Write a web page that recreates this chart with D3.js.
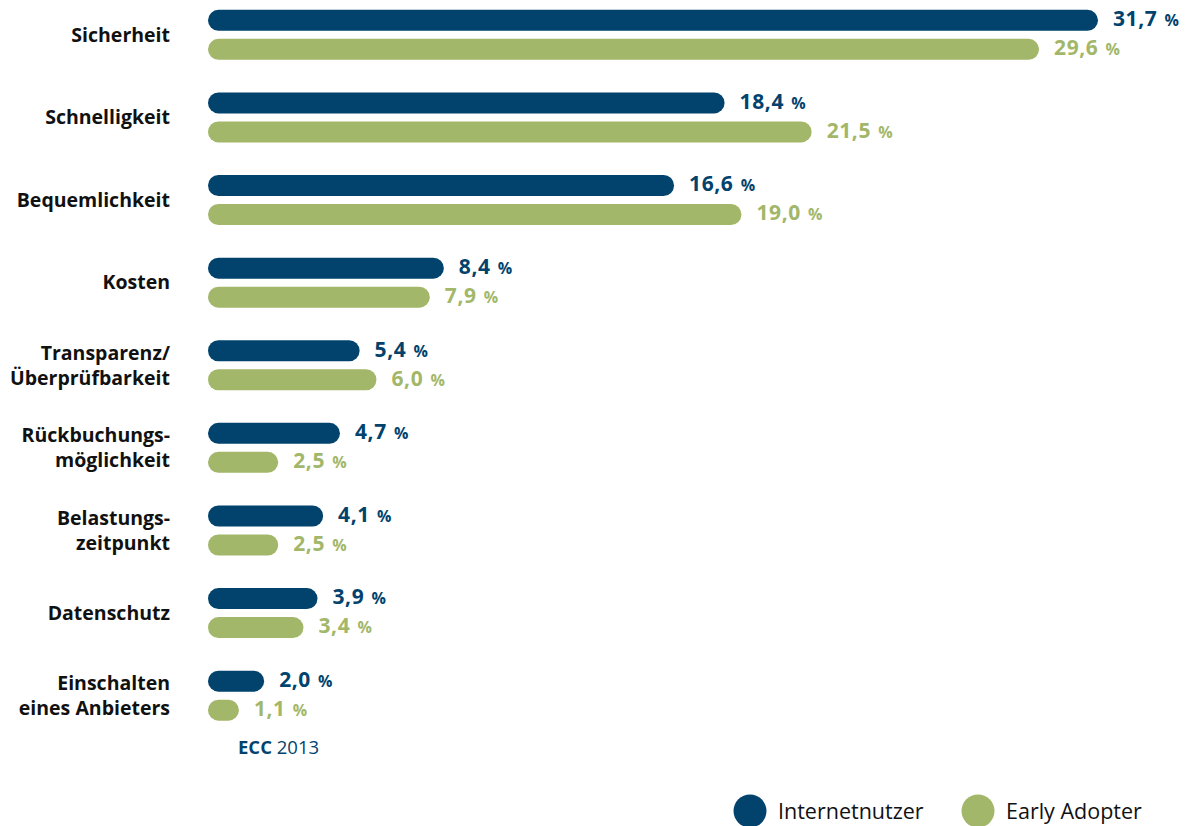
<!DOCTYPE html>
<html>
<head>
<meta charset="utf-8">
<script src="https://cdn.jsdelivr.net/npm/d3@7"></script>
<style>
  html, body { margin: 0; padding: 0; background: #fff; }
  svg { display: block; font-family: "Open Sans", "Noto Sans", sans-serif; }
</style>
</head>
<body>
<svg id="chart" width="1187" height="826"></svg>
<script>
// Gründe / Kriterien – Anteile in Prozent
const categories = [
  ["Sicherheit"],
  ["Schnelligkeit"],
  ["Bequemlichkeit"],
  ["Kosten"],
  ["Transparenz/", "Überprüfbarkeit"],
  ["Rückbuchungs-", "möglichkeit"],
  ["Belastungs-", "zeitpunkt"],
  ["Datenschutz"],
  ["Einschalten", "eines Anbieters"]
];
const seriesNames = ["Internetnutzer", "Early Adopter"];
const internetnutzer = [31.7, 18.4, 16.6, 8.4, 5.4, 4.7, 4.1, 3.9, 2.0];
const earlyAdopter   = [29.6, 21.5, 19.0, 7.9, 6.0, 2.5, 2.5, 3.4, 1.1];
const sourceLabel = ["ECC", " 2013"];

const colors = ["#02436d", "#a2b769"];
const series = [internetnutzer, earlyAdopter];

const svg = d3.select("#chart");
const barLeft = 208;

const x = d3.scaleLinear().domain([0, 31.7]).range([barLeft, 1098]);
const y = d3.scaleBand()
  .domain(d3.range(categories.length))
  .range([-6.5, 737])
  .paddingInner(0.4)
  .paddingOuter(0.2);
const sub = d3.scaleBand().domain([0, 1]).range([0, 50]).paddingInner(0.276);
const barH = sub.bandwidth();

// place the pair of bars in the middle of each category band
const groupTop = i => y(i) + (y.bandwidth() - 50) / 2;

const fmt = v => d3.format(".1f")(v).replace(".", ",");

const groups = svg.selectAll("g.cat")
  .data(categories)
  .join("g")
  .attr("class", "cat")
  .attr("transform", (d, i) => `translate(0,${groupTop(i)})`);

// category labels
groups.append("text")
  .attr("x", 170)
  .attr("text-anchor", "end")
  .attr("font-size", 19.5)
  .attr("font-weight", 700)
  .attr("fill", "#111")
  .selectAll("tspan")
  .data(d => d.map((line, k) => ({ line, k, n: d.length })))
  .join("tspan")
  .attr("x", 170)
  .attr("y", t => 25 + (t.k - (t.n - 1) / 2) * 25)
  .attr("dy", "0.35em")
  .text(t => t.line);

series.forEach((vals, s) => {
  groups.append("rect")
    .attr("x", barLeft)
    .attr("y", sub(s))
    .attr("width", (d, i) => x(vals[i]) - barLeft)
    .attr("height", barH)
    .attr("rx", barH / 2)
    .attr("fill", colors[s]);

  const lbl = groups.append("text")
    .attr("x", (d, i) => x(vals[i]) + 15)
    .attr("y", sub(s) + barH / 2)
    .attr("dy", "0.36em")
    .attr("fill", colors[s])
    .attr("font-weight", 700);
  lbl.append("tspan").attr("font-size", 21).attr("letter-spacing", 0.6)
    .text((d, i) => fmt(vals[i]));
  lbl.append("tspan").attr("font-size", 16).attr("dx", 3).text(" %");
});

// source
const src = svg.append("text")
  .attr("x", 238).attr("y", 754)
  .attr("font-size", 18.5)
  .attr("fill", "#02436d");
src.append("tspan").attr("font-weight", 700).text(sourceLabel[0]);
src.append("tspan").text(sourceLabel[1]);

// legend
const legendX = [750, 978];
const legend = svg.selectAll("g.legend")
  .data(seriesNames)
  .join("g")
  .attr("class", "legend")
  .attr("transform", (d, i) => `translate(${legendX[i]},811)`);
legend.append("circle").attr("r", 16.5).attr("fill", (d, i) => colors[i]);
legend.append("text")
  .attr("x", 28).attr("dy", "0.36em")
  .attr("font-size", 21.5)
  .attr("fill", "#111")
  .text(d => d);
</script>
</body>
</html>
